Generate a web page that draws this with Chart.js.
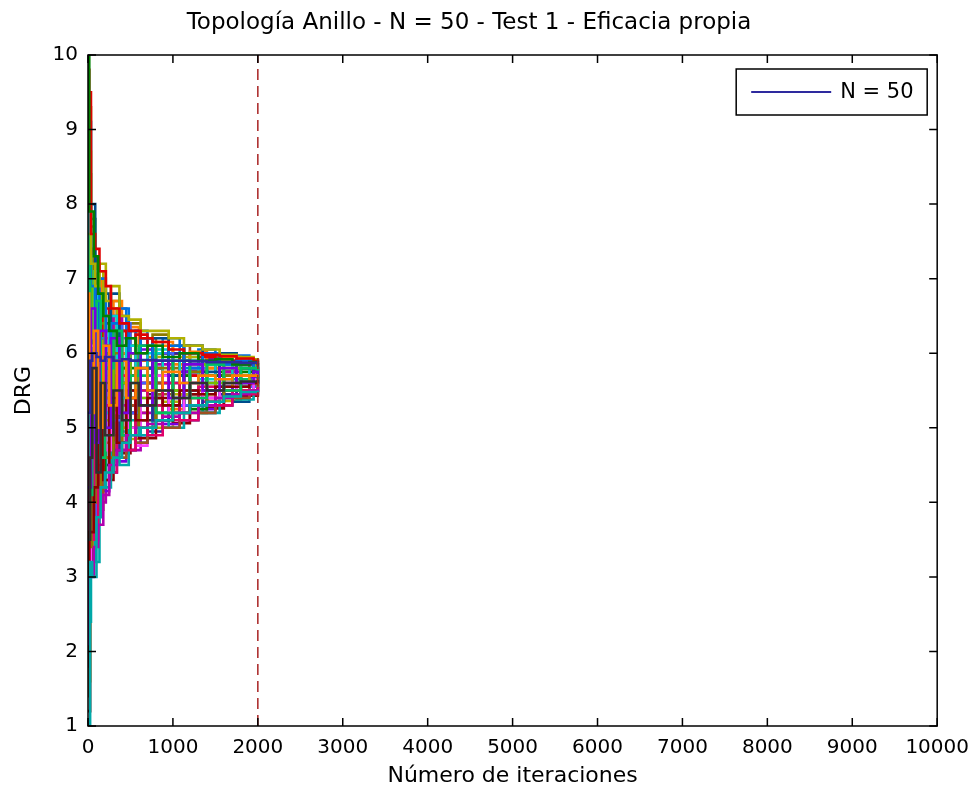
<!DOCTYPE html>
<html>
<head>
<meta charset="utf-8">
<title>Topología Anillo - N = 50 - Test 1</title>
<script src="https://cdn.jsdelivr.net/npm/chart.js@4.4.1/dist/chart.umd.min.js"></script>
<style>
  html, body { margin: 0; padding: 0; background: #fff; }
  canvas { display: block; }
</style>
</head>
<body>
<canvas id="drgChart" width="979" height="793"></canvas>
<script>
// agents update asynchronously: three groups, each logged at its own iterations
const iterationsA = [0, 25, 50, 100, 150, 200, 300, 400, 500, 600, 800, 1000, 1200, 1400, 1600, 1800, 2000];
const iterationsB = [0, 15, 70, 120, 180, 250, 340, 450, 560, 700, 880, 1080, 1300, 1500, 1700, 1900, 2000];
const iterationsC = [0, 35, 85, 135, 210, 270, 370, 480, 620, 760, 950, 1130, 1350, 1550, 1750, 1950, 2000];

// DRG of each of the 50 agents in the ring, one row per agent
const agentDRG = [
  [5.2, 5.9, 6.0, 5.95, 5.9, 5.95, 5.9, 5.92, 5.9, 5.91, 5.9, 5.9, 5.89, 5.88, 5.88, 5.87, 5.86],
  [10.0, 7.9, 7.3, 6.8, 6.5, 6.3, 6.1, 6.2, 6.0, 6.1, 5.95, 6.0, 5.9, 5.92, 5.85, 5.88, 5.84],
  [9.5, 7.6, 7.4, 7.1, 6.9, 6.6, 6.4, 6.3, 6.2, 6.15, 6.05, 6.0, 5.98, 5.96, 5.93, 5.9, 5.88],
  [1.0, 3.2, 3.0, 3.8, 4.2, 4.4, 4.6, 4.8, 4.9, 5.0, 5.1, 5.2, 5.3, 5.35, 5.42, 5.48, 5.5],
  [2.1, 3.0, 3.4, 3.7, 4.1, 4.5, 4.7, 4.9, 5.0, 5.05, 5.15, 5.2, 5.3, 5.4, 5.45, 5.5, 5.52],
  [8.7, 7.2, 6.9, 7.2, 6.7, 6.9, 6.5, 6.45, 6.3, 6.3, 6.2, 6.1, 6.05, 5.98, 5.95, 5.92, 5.9],
  [3.5, 4.6, 5.8, 4.4, 5.6, 4.9, 5.5, 5.1, 5.6, 5.3, 5.5, 5.4, 5.6, 5.5, 5.6, 5.62, 5.64],
  [6.8, 5.2, 6.3, 5.0, 6.1, 5.3, 5.9, 5.4, 5.8, 5.5, 5.75, 5.6, 5.7, 5.65, 5.7, 5.7, 5.71],
  [4.2, 6.6, 4.8, 6.3, 5.0, 6.2, 5.2, 6.0, 5.3, 5.9, 5.4, 5.85, 5.5, 5.8, 5.6, 5.75, 5.7],
  [7.6, 4.1, 5.5, 6.7, 4.6, 5.8, 6.3, 4.9, 5.7, 6.1, 5.2, 5.9, 5.4, 5.85, 5.5, 5.8, 5.65],
  [1.8, 3.6, 4.2, 5.2, 4.3, 5.4, 4.8, 5.5, 5.1, 5.4, 5.3, 5.5, 5.45, 5.55, 5.55, 5.6, 5.6],
  [9.1, 6.9, 5.6, 7.0, 5.8, 6.4, 6.6, 5.9, 6.2, 5.9, 6.1, 5.8, 6.0, 5.85, 5.9, 5.8, 5.82],
  [5.5, 7.3, 6.2, 4.9, 6.8, 5.1, 6.2, 5.6, 6.0, 5.4, 5.9, 5.5, 5.85, 5.6, 5.8, 5.7, 5.75],
  [2.7, 5.0, 3.5, 4.5, 5.3, 4.4, 5.7, 4.7, 5.5, 4.9, 5.6, 5.1, 5.55, 5.3, 5.5, 5.45, 5.55],
  [6.2, 8.0, 6.7, 5.4, 6.1, 6.8, 5.6, 6.3, 5.8, 6.2, 5.7, 6.1, 5.75, 6.0, 5.8, 5.9, 5.78],
  [4.7, 3.4, 5.9, 4.0, 6.4, 4.6, 6.0, 4.8, 5.9, 5.0, 5.8, 5.2, 5.75, 5.35, 5.7, 5.5, 5.68],
  [8.2, 5.7, 7.1, 6.0, 5.2, 6.5, 5.4, 6.1, 5.5, 6.0, 5.6, 5.9, 5.65, 5.85, 5.7, 5.8, 5.74],
  [3.1, 6.1, 4.4, 5.6, 4.7, 5.2, 5.9, 5.0, 5.4, 5.7, 5.2, 5.6, 5.4, 5.6, 5.5, 5.65, 5.6],
  [7.3, 4.8, 3.8, 4.6, 6.2, 4.9, 5.1, 6.4, 5.2, 5.5, 6.0, 5.3, 5.8, 5.5, 5.7, 5.55, 5.66],
  [1.4, 4.3, 5.1, 3.9, 4.8, 5.7, 4.6, 5.3, 4.8, 5.6, 5.0, 5.4, 5.2, 5.5, 5.4, 5.58, 5.56],
  [5.9, 6.8, 4.6, 6.5, 5.5, 4.7, 6.1, 5.2, 6.1, 5.1, 6.0, 5.3, 5.9, 5.45, 5.85, 5.6, 5.72],
  [6.5, 3.8, 6.5, 5.8, 4.4, 6.1, 4.9, 5.8, 5.0, 5.8, 5.1, 5.7, 5.25, 5.7, 5.4, 5.75, 5.62],
  [9.8, 7.7, 7.0, 6.2, 6.6, 5.5, 6.3, 5.7, 6.25, 5.6, 6.0, 5.7, 5.95, 5.7, 5.9, 5.75, 5.8],
  [2.4, 4.9, 3.2, 5.0, 4.2, 5.6, 4.5, 5.6, 4.9, 5.5, 5.0, 5.6, 5.2, 5.65, 5.38, 5.7, 5.58],
  [4.0, 5.5, 6.9, 5.3, 6.6, 5.0, 6.5, 5.3, 6.0, 5.2, 5.85, 5.3, 5.75, 5.4, 5.75, 5.5, 5.7],
  [7.0, 6.3, 5.3, 7.1, 5.4, 6.6, 5.0, 6.2, 5.2, 5.95, 5.35, 5.95, 5.45, 5.9, 5.55, 5.85, 5.69],
  [5.0, 4.0, 4.9, 6.0, 4.5, 6.0, 4.8, 6.0, 5.1, 6.0, 5.3, 5.9, 5.5, 5.85, 5.6, 5.8, 5.66],
  [8.9, 7.4, 6.4, 5.7, 7.0, 6.2, 6.7, 6.0, 6.35, 5.9, 6.15, 5.85, 6.02, 5.8, 5.95, 5.85, 5.83],
  [3.8, 5.4, 4.1, 4.8, 4.15, 5.5, 4.55, 5.7, 4.9, 5.8, 5.05, 5.75, 5.25, 5.7, 5.4, 5.68, 5.6],
  [6.0, 7.0, 5.9, 4.2, 5.9, 4.8, 5.8, 5.0, 5.7, 5.2, 5.7, 5.3, 5.7, 5.4, 5.65, 5.5, 5.64],
  [1.2, 3.1, 3.9, 4.7, 5.0, 4.3, 5.3, 4.66, 5.4, 4.86, 5.4, 5.06, 5.45, 5.26, 5.5, 5.43, 5.5],
  [7.9, 5.0, 6.8, 6.4, 6.3, 5.7, 6.6, 5.5, 6.3, 5.6, 6.2, 5.5, 6.05, 5.55, 5.97, 5.6, 5.85],
  [4.5, 6.4, 5.0, 5.5, 6.0, 5.3, 5.6, 6.1, 5.5, 6.0, 5.5, 5.9, 5.55, 5.8, 5.6, 5.75, 5.68],
  [2.9, 4.5, 5.6, 4.1, 5.1, 4.6, 5.2, 4.8, 5.2, 5.0, 5.3, 5.1, 5.4, 5.3, 5.45, 5.5, 5.54],
  [6.7, 5.8, 4.3, 5.9, 6.8, 5.6, 4.7, 5.7, 4.8, 5.8, 5.0, 5.75, 5.2, 5.7, 5.35, 5.7, 5.6],
  [9.3, 6.0, 7.2, 6.6, 5.6, 6.7, 6.0, 6.4, 5.9, 6.25, 5.8, 6.1, 5.8, 6.0, 5.8, 5.9, 5.76],
  [5.3, 4.4, 6.6, 5.1, 5.7, 4.5, 6.4, 4.95, 6.1, 5.3, 6.05, 5.4, 5.95, 5.5, 5.85, 5.55, 5.73],
  [3.3, 5.3, 3.6, 6.2, 4.9, 5.9, 5.0, 5.4, 4.76, 5.7, 5.05, 5.6, 5.3, 5.55, 5.45, 5.6, 5.59],
  [7.4, 6.5, 5.7, 4.6, 6.5, 5.0, 6.2, 5.5, 5.6, 6.0, 5.5, 6.0, 5.6, 5.9, 5.65, 5.8, 5.74],
  [5.7, 6.0, 4.5, 6.9, 5.0, 6.3, 5.3, 6.3, 5.4, 6.2, 5.45, 6.1, 5.5, 5.95, 5.6, 5.85, 5.77],
  [2.2, 3.5, 5.2, 4.3, 5.8, 4.4, 5.9, 4.7, 5.6, 4.95, 5.6, 5.1, 5.6, 5.3, 5.6, 5.45, 5.62],
  [8.4, 7.8, 6.1, 6.9, 6.0, 6.0, 6.5, 5.8, 6.2, 5.7, 6.1, 5.75, 6.0, 5.75, 5.9, 5.8, 5.8],
  [4.9, 5.1, 6.7, 5.6, 4.6, 6.5, 5.1, 5.9, 5.2, 5.6, 5.7, 5.2, 5.8, 5.4, 5.75, 5.55, 5.7],
  [6.3, 4.6, 5.4, 6.1, 5.3, 5.5, 6.4, 5.1, 6.1, 5.4, 5.9, 5.5, 5.85, 5.55, 5.8, 5.6, 5.72],
  [3.6, 5.6, 3.7, 4.0, 5.5, 4.8, 5.4, 4.7, 5.6, 5.1, 5.3, 5.3, 5.35, 5.45, 5.5, 5.5, 5.57],
  [1.6, 4.2, 5.0, 5.9, 4.4, 5.4, 4.6, 5.6, 4.85, 5.5, 5.0, 5.45, 5.2, 5.5, 5.36, 5.55, 5.52],
  [7.7, 6.7, 6.6, 5.0, 6.4, 5.4, 6.0, 5.3, 6.0, 5.45, 6.0, 5.45, 5.95, 5.5, 5.88, 5.6, 5.79],
  [5.6, 5.3, 4.0, 5.5, 5.2, 6.4, 5.2, 6.1, 5.3, 6.1, 5.25, 6.0, 5.35, 5.9, 5.5, 5.8, 5.65],
  [8.0, 6.2, 7.3, 6.3, 6.9, 5.9, 6.3, 6.1, 5.7, 6.05, 5.6, 6.0, 5.7, 5.92, 5.7, 5.85, 5.76],
  [4.4, 4.7, 5.3, 4.9, 5.4, 5.1, 4.9, 5.4, 5.0, 5.3, 5.2, 5.5, 5.3, 5.6, 5.45, 5.6, 5.61]
];

// iteration where the run was stopped (dashed marker)
const stopIteration = [2000];
const drgLimits = [1, 10];
const iterLimits = [0, 10000];
const legendLabel = 'N = 50';

const FONT = 'DejaVu Sans';
const iterationGroups = [iterationsA, iterationsB, iterationsC];
const lineColors = [
  '#2e2a9e', '#008000', '#e00000', '#00a8a8', '#b000b0', '#b0b000', '#303030',
  '#ff7f00', '#7a00e0', '#00c060', '#8b0000', '#0070e0', '#70c000', '#e0006a',
  '#004c8c', '#8c7a00', '#00d0d0', '#ff40ff', '#4060ff', '#a05020'
];

const datasets = agentDRG.map((row, i) => {
  const its = iterationGroups[i % 3];
  return {
    label: i === 0 ? legendLabel : 'Agente ' + (i + 1),
    data: its.map((it, k) => ({ x: it, y: row[k] })),
    borderColor: lineColors[i % lineColors.length],
    borderWidth: 2.6,
    pointRadius: 0,
    stepped: true,
    fill: false
  };
});

// vertical dashed line at the stop iteration
datasets.unshift({
  label: 'stop',
  data: drgLimits.map(v => ({ x: stopIteration[0], y: v })),
  borderColor: '#a82222',
  borderWidth: 1.5,
  borderDash: [11, 6],
  pointRadius: 0,
  fill: false
});

// box around the axes with inward ticks on all four sides
const axesBox = {
  id: 'axesBox',
  afterDatasetsDraw(chart) {
    const { ctx, chartArea: a, scales: { x, y } } = chart;
    const tick = 8;
    ctx.save();
    ctx.strokeStyle = '#000';
    ctx.lineWidth = 1.5;
    ctx.strokeRect(a.left, a.top, a.right - a.left, a.bottom - a.top);
    ctx.beginPath();
    x.ticks.forEach(t => {
      const px = x.getPixelForValue(t.value);
      ctx.moveTo(px, a.bottom); ctx.lineTo(px, a.bottom - tick);
      ctx.moveTo(px, a.top); ctx.lineTo(px, a.top + tick);
    });
    y.ticks.forEach(t => {
      const py = y.getPixelForValue(t.value);
      ctx.moveTo(a.left, py); ctx.lineTo(a.left + tick, py);
      ctx.moveTo(a.right, py); ctx.lineTo(a.right - tick, py);
    });
    ctx.stroke();
    ctx.restore();
  }
};

// legend box in the upper right corner, showing only the first agent
const boxedLegend = {
  id: 'boxedLegend',
  afterDraw(chart) {
    const { ctx, chartArea: a } = chart;
    const ds = chart.data.datasets.find(d => d.label === legendLabel);
    const w = 191, h = 46;
    const left = a.right - 10 - w, top = a.top + 14;
    ctx.save();
    ctx.fillStyle = '#fff';
    ctx.fillRect(left, top, w, h);
    ctx.strokeStyle = '#000';
    ctx.lineWidth = 1.5;
    ctx.strokeRect(left, top, w, h);
    ctx.strokeStyle = ds.borderColor;
    ctx.lineWidth = 2;
    ctx.beginPath();
    ctx.moveTo(left + 15, top + h / 2);
    ctx.lineTo(left + 95, top + h / 2);
    ctx.stroke();
    ctx.fillStyle = '#000';
    ctx.font = '21px "' + FONT + '"';
    ctx.textBaseline = 'middle';
    ctx.fillText(ds.label, left + 104, top + h / 2 + 1);
    ctx.restore();
  }
};

new Chart(document.getElementById('drgChart'), {
  type: 'line',
  data: { datasets },
  options: {
    responsive: false,
    animation: false,
    devicePixelRatio: 1,
    layout: { padding: { top: 0, right: 41, bottom: 0, left: 0 } },
    plugins: {
      legend: { display: false },
      tooltip: { enabled: false },
      title: {
        display: true,
        text: 'Topología Anillo - N = 50 - Test 1 - Eficacia propia',
        color: '#000',
        font: { family: FONT, size: 23, weight: 'normal', lineHeight: 1.2 },
        padding: { top: 9, bottom: 18.4 }
      }
    },
    scales: {
      x: {
        type: 'linear',
        min: iterLimits[0],
        max: iterLimits[1],
        grid: { display: false, drawTicks: false },
        border: { display: false },
        ticks: {
          stepSize: 1000,
          color: '#000',
          padding: 10,
          maxRotation: 0,
          font: { family: FONT, size: 20 },
          callback: v => String(v)
        },
        title: {
          display: true,
          text: 'Número de iteraciones',
          color: '#000',
          font: { family: FONT, size: 22, lineHeight: 1.2 },
          padding: { top: 0, bottom: 4 }
        },
        afterFit(scale) { scale.height = 67; }
      },
      y: {
        type: 'linear',
        min: drgLimits[0],
        max: drgLimits[1],
        grid: { display: false, drawTicks: false },
        border: { display: false },
        ticks: {
          stepSize: 1,
          color: '#000',
          padding: 10,
          font: { family: FONT, size: 20 },
          callback: v => String(v)
        },
        title: {
          display: true,
          text: 'DRG',
          color: '#000',
          font: { family: FONT, size: 22, lineHeight: 1.2 },
          padding: { top: 11, bottom: 0 }
        },
        afterFit(scale) { scale.width = 88; }
      }
    }
  },
  plugins: [axesBox, boxedLegend]
});
</script>
</body>
</html>
